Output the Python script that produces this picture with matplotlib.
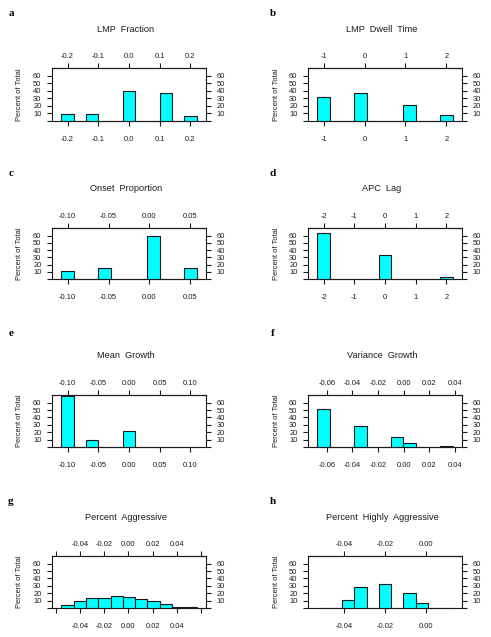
import numpy as np
import matplotlib
matplotlib.use("Agg")
import matplotlib.pyplot as plt

W, H = 491, 637
DPI = 100

# ---------------- data (percent of total per histogram bin) ----------------
a_breaks = [-0.22, -0.18, -0.14, -0.10, -0.06, -0.02, 0.02, 0.06, 0.10, 0.14, 0.18, 0.22]
a_pct = [8.9, 0, 8.9, 0, 0, 40.2, 0, 0, 37.0, 0, 6.2]
a_ticks = [-0.2, -0.1, 0.0, 0.1, 0.2]
a_labels = ["-0.2", "-0.1", "0.0", "0.1", "0.2"]

b_breaks = [-1.15, -0.85, -0.55, -0.25, 0.05, 0.35, 0.65, 0.95, 1.25, 1.55, 1.85, 2.15]
b_pct = [32.2, 0, 0, 37.8, 0, 0, 0, 21.9, 0, 0, 7.9]
b_ticks = [-1, 0, 1, 2]
b_labels = ["-1", "0", "1", "2"]

c_breaks = [-0.1075, -0.0925, -0.0775, -0.0625, -0.0475, -0.0325, -0.0175,
            -0.0025, 0.0125, 0.0275, 0.0425, 0.0575]
c_pct = [10.9, 0, 0, 15.0, 0, 0, 0, 58.8, 0, 0, 15.1]
c_ticks = [-0.10, -0.05, 0.00, 0.05]
c_labels = ["-0.10", "-0.05", "0.00", "0.05"]

d_breaks = [-2.2, -1.8, -1.4, -1.0, -0.6, -0.2, 0.2, 0.6, 1.0, 1.4, 1.8, 2.2]
d_pct = [63.4, 0, 0, 0, 0, 33.8, 0, 0, 0, 0, 2.8]
d_ticks = [-2, -1, 0, 1, 2]
d_labels = ["-2", "-1", "0", "1", "2"]

e_breaks = [-0.11, -0.09, -0.07, -0.05, -0.03, -0.01, 0.01, 0.03, 0.05, 0.07, 0.09, 0.11]
e_pct = [68.6, 0, 9.2, 0, 0, 21.8, 0, 0, 0, 0, 0.3]
e_ticks = [-0.10, -0.05, 0.00, 0.05, 0.10]
e_labels = ["-0.10", "-0.05", "0.00", "0.05", "0.10"]

f_breaks = list(np.linspace(-0.0673, 0.0383, 12))
f_pct = [51.4, 0, 0, 27.9, 0, 0, 13.2, 6.0, 0, 0, 1.2]
f_ticks = [-0.06, -0.04, -0.02, 0.00, 0.02, 0.04]
f_labels = ["-0.06", "-0.04", "-0.02", "0.00", "0.02", "0.04"]

g_breaks = list(np.linspace(-0.0554, 0.0563, 12))
g_pct = [4.0, 8.9, 13.4, 13.5, 16.4, 15.2, 12.0, 8.9, 4.9, 1.8, 0.9]
g_ticks = [-0.06, -0.04, -0.02, 0.00, 0.02, 0.04, 0.06]
g_labels = ["", "-0.04", "-0.02", "0.00", "0.02", "0.04", ""]

h_breaks = list(np.linspace(-0.0531, 0.0128, 12))
h_pct = [0.3, 0, 11.0, 28.5, 0, 32.5, 0, 20.5, 6.5, 0, 0.3]
h_ticks = [-0.04, -0.02, 0.00]
h_labels = ["-0.04", "-0.02", "0.00"]

y_ticks = [0, 10, 20, 30, 40, 50, 60]
y_labels = ["", "10", "20", "30", "40", "50", "60"]

titles = ["LMP  Fraction", "LMP  Dwell  Time", "Onset  Proportion", "APC  Lag",
          "Mean  Growth", "Variance  Growth", "Percent  Aggressive",
          "Percent  Highly  Aggressive"]
letters = ["a", "b", "c", "d", "e", "f", "g", "h"]

panels = [
    (a_breaks, a_pct, a_ticks, a_labels),
    (b_breaks, b_pct, b_ticks, b_labels),
    (c_breaks, c_pct, c_ticks, c_labels),
    (d_breaks, d_pct, d_ticks, d_labels),
    (e_breaks, e_pct, e_ticks, e_labels),
    (f_breaks, f_pct, f_ticks, f_labels),
    (g_breaks, g_pct, g_ticks, g_labels),
    (h_breaks, h_pct, h_ticks, h_labels),
]

# ---------------- layout (pixels) ----------------
cols = [(52, 206), (308, 462)]
rows = [(68, 121), (228, 279), (395, 447), (556, 608)]
title_y = [29.5, 188.5, 355, 517]
letter_y = [13.5, 173, 333, 501]
title_x = [126, 382]
letter_x = [11, 273]
ylabel_x = [19.5, 276]

plt.rcParams["font.family"] = ["Liberation Sans", "DejaVu Sans"]
fig = plt.figure(figsize=(W / DPI, H / DPI), dpi=DPI)

FILL = "#00FFFF"
LINE = "#1a1a1a"
TS = 5.4

for i, (breaks, pct, xt, xl) in enumerate(panels):
    r, c = divmod(i, 2)
    x0, x1 = cols[c]
    yt, yb = rows[r]
    ax = fig.add_axes([x0 / W, 1 - yb / H, (x1 - x0) / W, (yb - yt) / H])
    br = np.asarray(breaks, dtype=float)
    ax.bar(br[:-1], pct, width=np.diff(br), align="edge", color=FILL,
           edgecolor=LINE, linewidth=0.8, clip_on=False, zorder=3)
    span = br[-1] - br[0]
    ax.set_xlim(br[0] - 0.07 * span, br[-1] + 0.07 * span)
    ax.set_ylim(0, 70.5)
    ax.set_xticks(xt)
    ax.set_xticklabels(xl)
    ax.set_yticks(y_ticks)
    ax.set_yticklabels(y_labels)
    ax.tick_params(axis="x", which="both", top=False, bottom=True,
                   labeltop=False, labelbottom=True, direction="out",
                   length=3.6, width=0.8, pad=7.0, labelsize=TS, colors=LINE)
    ax.tick_params(axis="y", which="both", left=True, right=True,
                   labelleft=True, labelright=True, direction="out",
                   length=3.6, width=0.8, pad=4.0, labelsize=TS, colors=LINE)
    sec = ax.secondary_xaxis("top")
    sec.set_xticks(xt)
    sec.set_xticklabels(xl)
    sec.tick_params(axis="x", direction="out", length=3.6, width=0.8,
                    pad=2.4, labelsize=TS, colors=LINE)
    sec.spines["top"].set_color(LINE)
    sec.spines["top"].set_linewidth(0.8)
    for s in ax.spines.values():
        s.set_color(LINE)
        s.set_linewidth(0.8)
    fig.text(title_x[c] / W, 1 - title_y[r] / H, titles[i], ha="center",
             va="center", fontsize=6.6, color=LINE)
    fig.text(letter_x[c] / W, 1 - letter_y[r] / H, letters[i], ha="center",
             va="center", fontsize=8.0, fontweight="bold",
             family=["Liberation Serif", "DejaVu Serif"], color="black")
    fig.text(ylabel_x[c] / W, 1 - (yt + yb) / 2 / H, "Percent of Total",
             rotation=90, ha="center", va="center", fontsize=TS, color=LINE)

fig.savefig("out.png", dpi=DPI)
